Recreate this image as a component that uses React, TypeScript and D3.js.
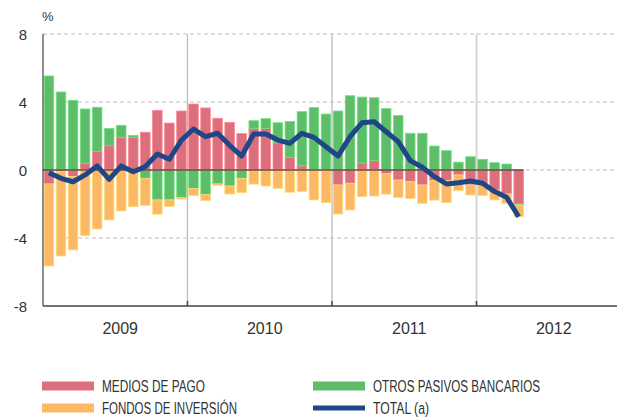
import * as d3 from 'd3';
import { useEffect, useRef } from 'react';

// months Jan 2009 .. Apr 2012
const years = ['2009', '2010', '2011', '2012'];
const monthsPerYear = 12;

const mediosDePago = [
  -0.82, -0.10, -0.38, 0.40, 1.08, 1.43, 1.92, 1.92, 2.22, 3.51, 2.76, 3.47,
  3.88, 3.65, 3.04, 2.80, 2.14, 2.43, 2.45, 1.60, 0.75, 0.24, 0.02, 0.02,
  -0.88, -0.78, 0.41, 0.55, -0.22, -0.59, -0.69, -0.88, -0.63, -0.63, -0.29, -0.88,
  -0.88, -1.18, -1.41, -2.00
];

const otrosPasivos = [
  5.53, 4.59, 4.10, 3.19, 2.61, 1.02, 0.71, 0.12, -0.49, -1.76, -1.76, -1.63,
  -1.08, -1.45, -0.82, -0.94, -0.49, 0.47, 0.57, 1.18, 2.11, 3.19, 3.65, 3.27,
  3.47, 4.37, 3.88, 3.70, 3.61, 3.20, 2.16, 2.16, 1.41, 1.14, 0.46, 0.78,
  0.63, 0.43, 0.35, -0.06
];

const fondosInversion = [
  -4.83, -4.96, -4.32, -3.86, -3.47, -2.94, -2.41, -2.16, -1.59, -0.84, -0.39, -0.08,
  -0.43, -0.35, -0.10, -0.47, -0.84, -0.83, -0.94, -1.08, -1.31, -1.27, -1.76, -1.92,
  -1.71, -1.57, -1.57, -1.53, -1.20, -1.02, -0.98, -1.08, -1.14, -1.29, -0.93, -0.59,
  -0.63, -0.58, -0.55, -0.69
];

const total = [
  -0.16, -0.49, -0.69, -0.29, 0.24, -0.55, 0.24, -0.10, 0.20, 0.94, 0.63, 1.76,
  2.41, 1.96, 2.16, 1.45, 0.82, 2.12, 2.12, 1.76, 1.57, 2.16, 1.92, 1.37,
  0.82, 1.96, 2.78, 2.84, 2.25, 1.67, 0.55, 0.16, -0.39, -0.82, -0.75, -0.65,
  -0.78, -1.27, -1.61, -2.75
];

const yTicks = [-8, -4, 0, 4, 8];

const seriesKeys = ['medios', 'otros', 'fondos'];
const seriesLabels = ['MEDIOS DE PAGO', 'OTROS PASIVOS BANCARIOS', 'FONDOS DE INVERSIÓN', 'TOTAL (a)'];
const colors = { medios: '#dc6f7c', otros: '#5ebd69', fondos: '#fdb865', total: '#1f4788' };

export default function App() {
  const ref = useRef<SVGSVGElement>(null);

  useEffect(() => {
    const width = 617, height = 418;
    const left = 43, right = 621, top = 34, bottom = 306;

    const months: string[] = [];
    years.forEach(yr => {
      for (let m = 0; m < monthsPerYear; m++) months.push(yr + '-' + m);
    });

    const data = mediosDePago.map((v, i) => ({
      key: months[i],
      medios: v,
      otros: otrosPasivos[i],
      fondos: fondosInversion[i],
      total: total[i]
    }));

    const x = d3.scaleBand<string>()
      .domain(months)
      .range([left, right])
      .paddingInner(0.21)
      .paddingOuter(0.1);

    const y = d3.scaleLinear().domain([-8, 8]).range([bottom, top]);

    const gap = (x.step() - x.bandwidth()) / 2;
    const yearStart = (i: number) => x(months[i * monthsPerYear])! - gap;

    const svg = d3.select(ref.current)
      .html('')
      .attr('width', width)
      .attr('height', height);

    // dashed grid
    svg.append('g')
      .selectAll('line')
      .data(yTicks.filter(t => t !== -8))
      .enter()
      .append('line')
      .attr('x1', left)
      .attr('x2', width)
      .attr('y1', d => y(d))
      .attr('y2', d => y(d))
      .attr('stroke', '#bdbdbd')
      .attr('stroke-width', 1.2)
      .attr('stroke-dasharray', '4,3');

    // year separators
    svg.append('g')
      .selectAll('line')
      .data([1, 2, 3])
      .enter()
      .append('line')
      .attr('x1', d => yearStart(d))
      .attr('x2', d => yearStart(d))
      .attr('y1', top)
      .attr('y2', bottom)
      .attr('stroke', d => d === 3 ? '#d6d6d6' : '#bcbcbc')
      .attr('stroke-width', d => d === 3 ? 2 : 1.3);

    // stacked bars
    const stack = d3.stack<any>()
      .keys(seriesKeys)
      .offset(d3.stackOffsetDiverging);
    const layers = stack(data);

    svg.append('g')
      .selectAll('g')
      .data(layers)
      .enter()
      .append('g')
      .attr('fill', d => (colors as any)[d.key])
      .attr('stroke', d => d3.color((colors as any)[d.key])!.brighter(0.5).formatHex())
      .attr('stroke-width', 0.8)
      .selectAll('rect')
      .data(d => d)
      .enter()
      .append('rect')
      .attr('x', d => x(d.data.key)!)
      .attr('width', x.bandwidth())
      .attr('y', d => y(Math.max(d[0], d[1])))
      .attr('height', d => Math.abs(y(d[0]) - y(d[1])));

    // zero line
    const lastX = x(data[data.length - 1].key)! + x.bandwidth();
    svg.append('line')
      .attr('x1', left)
      .attr('x2', lastX)
      .attr('y1', y(0))
      .attr('y2', y(0))
      .attr('stroke', '#6b4a3c')
      .attr('stroke-width', 1.3);

    // total line
    const line = d3.line<any>()
      .x(d => x(d.key)! + x.bandwidth() / 2)
      .y(d => y(d.total));

    svg.append('path')
      .datum(data)
      .attr('d', line)
      .attr('fill', 'none')
      .attr('stroke', colors.total)
      .attr('stroke-width', 5)
      .attr('stroke-linejoin', 'round');

    // axes
    svg.append('line')
      .attr('x1', left).attr('x2', left)
      .attr('y1', top).attr('y2', bottom)
      .attr('stroke', '#444').attr('stroke-width', 1.2);
    svg.append('line')
      .attr('x1', left).attr('x2', width)
      .attr('y1', bottom).attr('y2', bottom)
      .attr('stroke', '#444').attr('stroke-width', 1.5);

    svg.append('g')
      .selectAll('line')
      .data([1, 2, 3])
      .enter()
      .append('line')
      .attr('x1', d => yearStart(d))
      .attr('x2', d => yearStart(d))
      .attr('y1', bottom - 5)
      .attr('y2', bottom)
      .attr('stroke', '#444')
      .attr('stroke-width', 1.5);

    // y labels
    svg.append('g')
      .selectAll('text')
      .data(yTicks)
      .enter()
      .append('text')
      .attr('x', 27)
      .attr('y', d => y(d) + 5.5)
      .attr('text-anchor', 'end')
      .attr('font-family', 'Liberation Sans, Arial, sans-serif')
      .attr('font-size', 15)
      .attr('fill', '#333')
      .text(d => d);

    svg.append('text')
      .attr('x', 42)
      .attr('y', 21)
      .attr('font-family', 'Liberation Sans, Arial, sans-serif')
      .attr('font-size', 13)
      .attr('fill', '#333')
      .text('%');

    // year labels
    svg.append('g')
      .selectAll('text')
      .data(years)
      .enter()
      .append('text')
      .attr('x', (d, i) => (yearStart(i) + yearStart(i + 1 > 3 ? 3 : i + 1) + (i === 3 ? 144.5 : 0)) / 2 + 5)
      .attr('y', 334)
      .attr('text-anchor', 'middle')
      .attr('font-family', 'Liberation Sans, Arial, sans-serif')
      .attr('font-size', 16)
      .attr('fill', '#333')
      .text(d => d);

    // legend
    const legend = [
      { label: seriesLabels[0], color: colors.medios, x: 42, y: 386, h: 9, w: 103 },
      { label: seriesLabels[1], color: colors.otros, x: 313, y: 386, h: 9, w: 167 },
      { label: seriesLabels[2], color: colors.fondos, x: 42, y: 408, h: 9, w: 135 },
      { label: seriesLabels[3], color: colors.total, x: 313, y: 408, h: 5, w: 56 }
    ];
    const lg = svg.append('g')
      .selectAll('g')
      .data(legend)
      .enter()
      .append('g');
    lg.append('rect')
      .attr('x', d => d.x)
      .attr('y', d => d.y - d.h / 2)
      .attr('width', 52)
      .attr('height', d => d.h)
      .attr('fill', d => d.color);
    lg.append('text')
      .attr('x', d => d.x + 60)
      .attr('y', d => d.y + 6)
      .attr('font-family', 'Liberation Sans Narrow, Liberation Sans, Arial, sans-serif')
      .attr('font-size', 16)
      .attr('fill', '#333')
      .attr('textLength', d => d.w)
      .attr('lengthAdjust', 'spacingAndGlyphs')
      .text(d => d.label);
  }, []);

  return (
    <div style={{ position: 'absolute', left: 0, top: 0 }}>
      <svg ref={ref}></svg>
    </div>
  );
}
